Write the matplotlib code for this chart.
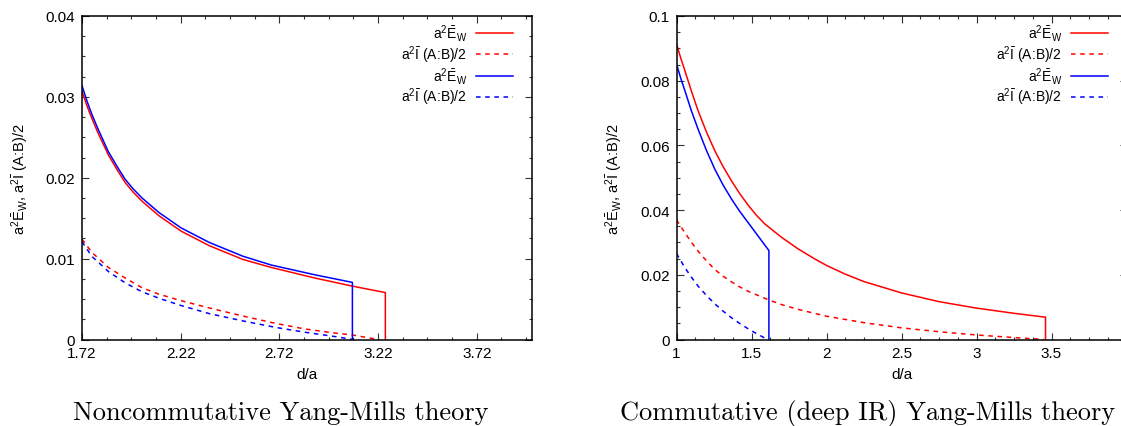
import matplotlib
matplotlib.use("Agg")
import matplotlib.pyplot as plt
from matplotlib.ticker import AutoMinorLocator, FixedLocator

plt.rcParams['font.family'] = ['Liberation Sans', 'DejaVu Sans']
plt.rcParams['mathtext.fontset'] = 'custom'
plt.rcParams['mathtext.rm'] = 'Liberation Sans'
plt.rcParams['mathtext.it'] = 'Liberation Sans:italic'

# --- noncommutative panel (left) ---
nc_x_ew_red = [1.72, 1.745, 1.769, 1.80, 1.854, 1.90, 1.939, 1.98, 2.024, 2.11, 2.222, 2.365,
               2.535, 2.68, 2.9, 3.09, 3.257, 3.257]
nc_ew_red = [0.0307, 0.0289, 0.0274, 0.0256, 0.0228, 0.0209, 0.0194, 0.0182, 0.0171, 0.0153,
             0.0134, 0.0116, 0.0099, 0.0089, 0.0076, 0.0066, 0.0058, 0.0]
nc_x_mi_red = [1.72, 1.769, 1.854, 1.939, 2.024, 2.11, 2.222, 2.365, 2.535, 2.70, 2.849, 3.0,
               3.09, 3.22]
nc_mi_red = [0.0124, 0.0108, 0.0089, 0.0076, 0.0064, 0.0056, 0.0048, 0.0039, 0.0029, 0.0020,
             0.0013, 0.0008, 0.00056, 0.0]
nc_x_ew_blue = [1.72, 1.745, 1.769, 1.80, 1.854, 1.90, 1.939, 1.98, 2.024, 2.11, 2.222, 2.365,
                2.535, 2.68, 2.9, 3.09, 3.09]
nc_ew_blue = [0.0314, 0.0295, 0.0279, 0.0261, 0.0232, 0.0213, 0.0198, 0.0186, 0.0175, 0.0157,
              0.0138, 0.0120, 0.0103, 0.0092, 0.0080, 0.00706, 0.0]
nc_x_mi_blue = [1.72, 1.769, 1.854, 1.939, 2.024, 2.11, 2.222, 2.365, 2.535, 2.70, 2.849, 3.02,
                3.09]
nc_mi_blue = [0.0121, 0.0103, 0.0084, 0.0070, 0.0059, 0.0051, 0.0042, 0.0032, 0.0023, 0.0015,
              0.0009, 0.0003, 0.0]

# --- commutative panel (right) ---
c_x_ew_red = [1.0, 1.028, 1.056, 1.1, 1.144, 1.2, 1.256, 1.31, 1.367, 1.42, 1.478, 1.533, 1.589,
              1.70, 1.811, 1.922, 2.0, 2.125, 2.25, 2.5, 2.75, 3.0, 3.25, 3.46, 3.46]
c_ew_red = [0.0914, 0.0870, 0.0831, 0.0767, 0.0707, 0.0641, 0.0583, 0.0535, 0.0490, 0.0452,
            0.0415, 0.0384, 0.0357, 0.0316, 0.0280, 0.0249, 0.0229, 0.0202, 0.0179, 0.0144,
            0.0117, 0.0097, 0.0081, 0.0069, 0.0]
c_x_mi_red = [1.0, 1.056, 1.1, 1.144, 1.2, 1.256, 1.31, 1.367, 1.42, 1.478, 1.55, 1.616, 1.70,
              1.811, 2.0, 2.25, 2.5, 2.75, 3.0, 3.25, 3.45]
c_mi_red = [0.0370, 0.0330, 0.0300, 0.0273, 0.0243, 0.0216, 0.0196, 0.0178, 0.0163, 0.0149,
            0.0135, 0.0122, 0.0108, 0.0093, 0.0072, 0.0052, 0.0036, 0.0024, 0.0014, 0.0006, 0.0]
c_x_ew_blue = [1.0, 1.028, 1.056, 1.1, 1.144, 1.2, 1.256, 1.31, 1.367, 1.42, 1.478, 1.55, 1.616,
               1.616]
c_ew_blue = [0.0852, 0.0808, 0.0769, 0.0706, 0.0650, 0.0584, 0.0526, 0.0478, 0.0434, 0.0397,
             0.0361, 0.0316, 0.0275, 0.0]
c_x_mi_blue = [1.0, 1.056, 1.1, 1.144, 1.2, 1.256, 1.31, 1.367, 1.42, 1.478, 1.53, 1.575, 1.60]
c_mi_blue = [0.0266, 0.0222, 0.0192, 0.0165, 0.0136, 0.0110, 0.0088, 0.0067, 0.0050, 0.0033,
             0.0019, 0.0008, 0.0]

lab_ew = r'a$^{2}\bar{\mathrm{E}}_{\mathrm{W}}$'
lab_mi = r'a$^{2}\bar{\mathrm{I}}$ (A:B)/2'
ylab = r'a$^{2}\bar{\mathrm{E}}_{\mathrm{W}}$, a$^{2}\bar{\mathrm{I}}$ (A:B)/2'

W, H = 1121, 427
fig = plt.figure(figsize=(W / 100, H / 100), dpi=100)


def panel(left, xlim, ylim, xticks, yticks, ylabels, series, title, title_x):
    ax = fig.add_axes([left / W, (H - 340.5) / H, 450 / W, 323.5 / H])
    for x, y, c, ls in series:
        if ls == 'solid':
            ax.plot(x, y, color=c, lw=1.1)
        else:
            ax.plot(x, y, color=c, lw=1.1, dashes=(3, 3))
    ax.set_xlim(*xlim)
    ax.set_ylim(*ylim)
    ax.xaxis.set_major_locator(FixedLocator(xticks))
    ax.xaxis.set_minor_locator(AutoMinorLocator(4))
    ax.yaxis.set_major_locator(FixedLocator(yticks))
    ax.yaxis.set_minor_locator(AutoMinorLocator(4))
    ax.set_xticklabels(['%g' % t for t in xticks])
    ax.set_yticklabels(ylabels)
    ax.tick_params(which='both', direction='in', top=True, right=True,
                   labelsize=11, width=0.8, color='#333333')
    ax.tick_params(which='major', length=5, pad=5)
    ax.tick_params(which='minor', length=2.5)
    for s in ax.spines.values():
        s.set_linewidth(1.1)
    ax.set_xlabel('d/a', fontsize=11, va='center')
    ax.xaxis.set_label_coords(0.5, -0.107)
    ax.set_ylabel(ylab, fontsize=10.5, va='center')
    ax.yaxis.set_label_coords(-0.138, 0.5)
    ax.legend(ax.get_lines(), [lab_ew, lab_mi, lab_ew, lab_mi], loc='upper right',
              bbox_to_anchor=(0.98, 1.012), frameon=False, markerfirst=False,
              fontsize=10, handlelength=2.65, handletextpad=0.65,
              labelspacing=0.02, borderaxespad=0.3)
    fig.text(title_x / W, 6.5 / H, title, family='cmr10', fontsize=19,
             va='baseline', ha='left')
    return ax


panel(82, (1.72, 4.0), (0, 0.04), [1.72, 2.22, 2.72, 3.22, 3.72],
      [0, 0.01, 0.02, 0.03, 0.04], ['0', '0.01', '0.02', '0.03', '0.04'],
      [(nc_x_ew_red, nc_ew_red, 'red', 'solid'),
       (nc_x_mi_red, nc_mi_red, 'red', 'dash'),
       (nc_x_ew_blue, nc_ew_blue, 'blue', 'solid'),
       (nc_x_mi_blue, nc_mi_blue, 'blue', 'dash')],
      'Noncommutative Yang-Mills theory', 73)

panel(676.5, (1.0, 4.0), (0, 0.1), [1, 1.5, 2, 2.5, 3, 3.5],
      [0, 0.02, 0.04, 0.06, 0.08, 0.1], ['0', '0.02', '0.04', '0.06', '0.08', '0.1'],
      [(c_x_ew_red, c_ew_red, 'red', 'solid'),
       (c_x_mi_red, c_mi_red, 'red', 'dash'),
       (c_x_ew_blue, c_ew_blue, 'blue', 'solid'),
       (c_x_mi_blue, c_mi_blue, 'blue', 'dash')],
      'Commutative (deep IR) Yang-Mills theory', 620)

fig.savefig('out.png', dpi=100)
